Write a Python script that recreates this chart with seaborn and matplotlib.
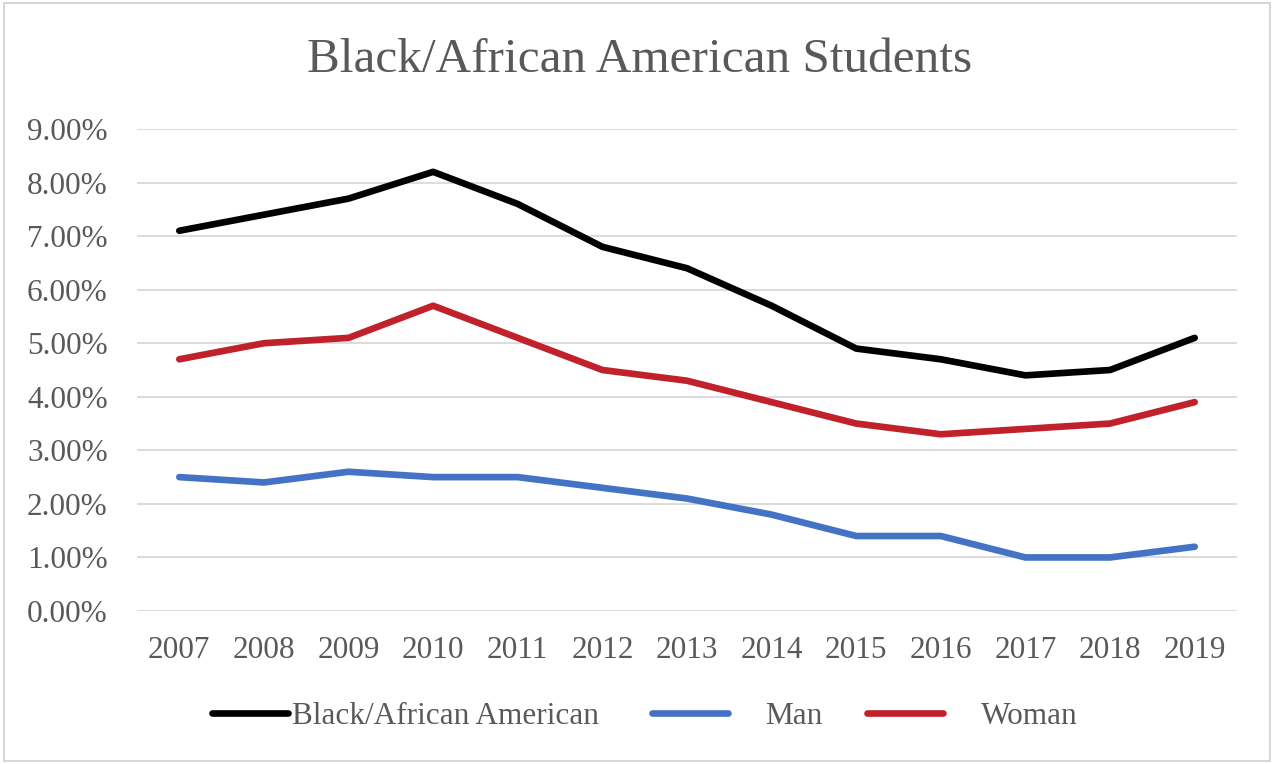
import matplotlib
matplotlib.use("Agg")
import matplotlib.pyplot as plt
import seaborn as sns
import pandas as pd
from matplotlib.patches import Rectangle
from matplotlib.lines import Line2D
from matplotlib.ticker import FuncFormatter

years = [2007, 2008, 2009, 2010, 2011, 2012, 2013, 2014, 2015, 2016, 2017, 2018, 2019]
black_african_american = [7.1, 7.4, 7.7, 8.2, 7.6, 6.8, 6.4, 5.7, 4.9, 4.7, 4.4, 4.5, 5.1]
man = [2.5, 2.4, 2.6, 2.5, 2.5, 2.3, 2.1, 1.8, 1.4, 1.4, 1.0, 1.0, 1.2]
woman = [4.7, 5.0, 5.1, 5.7, 5.1, 4.5, 4.3, 3.9, 3.5, 3.3, 3.4, 3.5, 3.9]
series_names = ["Black/African American", "Man", "Woman"]
yticks = [0, 1, 2, 3, 4, 5, 6, 7, 8, 9]
title = "Black/African American Students"

rows = []
for name, vals in zip(series_names, [black_african_american, man, woman]):
    for i, (yr, v) in enumerate(zip(years, vals)):
        rows.append({"pos": i, "year": str(yr), "value": v, "series": name})
df = pd.DataFrame(rows)

sns.set_theme(style="white")
plt.rcParams["font.family"] = ["Liberation Serif", "DejaVu Serif"]
text_color = "#595959"

W, H = 1277, 764
fig = plt.figure(figsize=(W / 100, H / 100), dpi=100)
fig.patch.set_facecolor("white")
ax = fig.add_axes([137 / W, 1 - 611 / H, (1237 - 137) / W, (611 - 129) / H])

palette = {"Black/African American": "#000000", "Man": "#4472C4", "Woman": "#C0212B"}
LW = 4.8
sns.lineplot(data=df, x="pos", y="value", hue="series", hue_order=series_names,
             palette=palette, linewidth=LW, ax=ax, legend=False,
             solid_capstyle="round", solid_joinstyle="round")

ax.set_xlim(-0.5, len(years) - 0.5)
ax.set_ylim(0, 9)
ax.set_yticks(yticks)
ax.yaxis.set_major_formatter(FuncFormatter(lambda v, p: f"{v:.2f}%"))
ax.set_xticks(range(len(years)))
ax.set_xticklabels([str(y) for y in years])
ax.grid(axis="y", color="#D9D9D9", linewidth=1.3)
ax.set_axisbelow(True)
for s in ax.spines.values():
    s.set_visible(False)
ax.tick_params(axis="both", length=0, labelsize=22.5, labelcolor=text_color)
ax.tick_params(axis="y", pad=21)
ax.tick_params(axis="x", pad=18)
ax.set_xlabel("")
ax.set_ylabel("")

fig.text(640 / W, 1 - 60 / H, title, ha="center", va="center",
         fontsize=35.5, color=text_color)

# legend: one entry per legend box, placed like the reference
legend_x = [212, 652, 867]
text_pads = [0.12, 1.2, 1.2]
for name, x0, pad in zip(series_names, legend_x, text_pads):
    h = Line2D([0], [0], color=palette[name], linewidth=LW, solid_capstyle="round")
    fig.legend([h], [name], loc="center left",
               bbox_to_anchor=(x0 / W, 1 - 716 / H), frameon=False,
               fontsize=22.5, handlelength=76 / 31.25, handletextpad=pad,
               borderpad=0, borderaxespad=0, labelcolor=text_color)

fig.patches.append(Rectangle((4 / W, 3 / H), (1270 - 4) / W, (761 - 3) / H,
                             transform=fig.transFigure, fill=False,
                             edgecolor="#D0D0D0", linewidth=1.2))

fig.savefig("out.png", dpi=100, facecolor="white")
